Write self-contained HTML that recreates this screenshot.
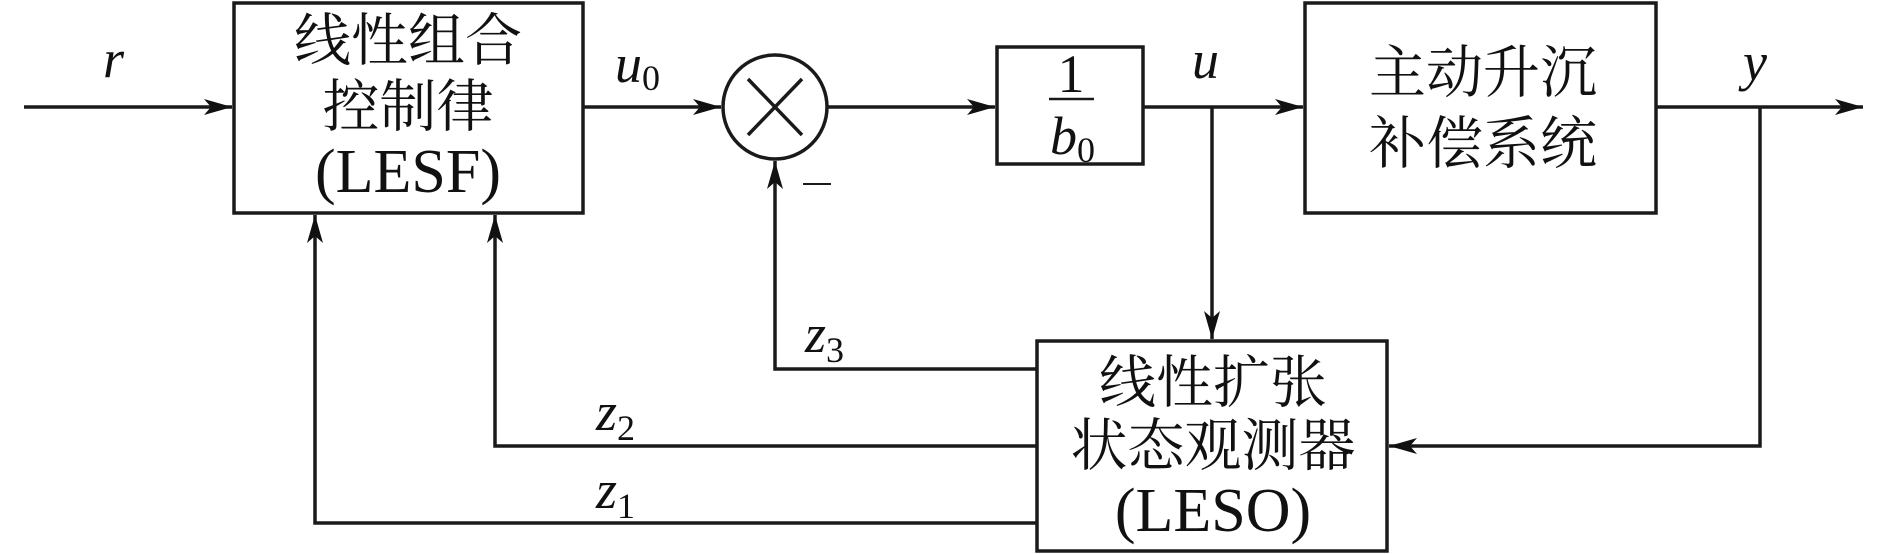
<!DOCTYPE html>
<html><head><meta charset="utf-8"><style>
html,body{margin:0;padding:0;background:#fff;}
svg{display:block;}
.cj{font-family:"Liberation Serif","Noto Serif CJK SC",serif;font-size:57px;fill:#111;}
.it{font-family:"Liberation Serif",serif;font-style:italic;font-size:54px;fill:#111;}
.sb{font-family:"Liberation Serif",serif;font-size:36px;fill:#111;font-style:normal;}
</style></head><body>
<svg width="1890" height="554" viewBox="0 0 1890 554" xmlns="http://www.w3.org/2000/svg">
<defs>
<marker id="a" markerWidth="30" markerHeight="20" refX="28" refY="10" orient="auto" markerUnits="userSpaceOnUse">
<path d="M0,2 L28,10 L0,18 L7,10 Z" fill="#111"/>
</marker>
</defs>
<g stroke="#1a1a1a" stroke-width="3.5" fill="none">
<rect x="234" y="3" width="349" height="210"/>
<rect x="997" y="47" width="146" height="117"/>
<rect x="1305" y="3" width="351" height="210"/>
<rect x="1037" y="341" width="350" height="210"/>
<circle cx="775" cy="107" r="52"/>
<line x1="748" y1="79" x2="802" y2="135"/>
<line x1="802" y1="79" x2="748" y2="135"/>
<line x1="24" y1="107" x2="232" y2="107" marker-end="url(#a)"/>
<line x1="583" y1="107" x2="721" y2="107" marker-end="url(#a)"/>
<line x1="827" y1="107" x2="995" y2="107" marker-end="url(#a)"/>
<line x1="1143" y1="107" x2="1303" y2="107" marker-end="url(#a)"/>
<line x1="1656" y1="107" x2="1863" y2="107" marker-end="url(#a)"/>
<line x1="1212" y1="107" x2="1212" y2="339" marker-end="url(#a)"/>
<polyline points="1760,107 1760,446 1389,446" marker-end="url(#a)"/>
<polyline points="1037,369 775,369 775,161" marker-end="url(#a)"/>
<polyline points="1037,446 495,446 495,215" marker-end="url(#a)"/>
<polyline points="1037,523 315,523 315,215" marker-end="url(#a)"/>
<line x1="1049" y1="99" x2="1094" y2="99" stroke-width="2.5"/>
<line x1="803" y1="184" x2="831" y2="184" stroke-width="2"/>
</g>
<g text-anchor="middle">
<text class="cj" x="408" y="60">线性组合</text>
<text class="cj" x="408" y="126">控制律</text>
<text class="cj" x="408" y="192" style="font-size:62px">(LESF)</text>
<text class="cj" x="1483" y="92">主动升沉</text>
<text class="cj" x="1483" y="163">补偿系统</text>
<text class="cj" x="1213" y="402">线性扩张</text>
<text class="cj" x="1213" y="465">状态观测器</text>
<text class="cj" x="1213" y="531" style="font-size:62px">(LESO)</text>
<text class="cj" x="1071" y="92" style="font-size:54px">1</text>
</g>
<text class="it" x="103" y="77">r</text>
<text class="it" x="615" y="82">u<tspan class="sb" dy="8">0</tspan></text>
<text class="it" x="1192" y="78">u</text>
<text class="it" x="1743" y="80">y</text>
<text class="it" x="1050" y="154">b<tspan class="sb" dy="8">0</tspan></text>
<text class="it" x="805" y="352">z<tspan class="sb" dy="10">3</tspan></text>
<text class="it" x="596" y="430">z<tspan class="sb" dy="10">2</tspan></text>
<text class="it" x="596" y="508">z<tspan class="sb" dy="10">1</tspan></text>
</svg>
</body></html>
